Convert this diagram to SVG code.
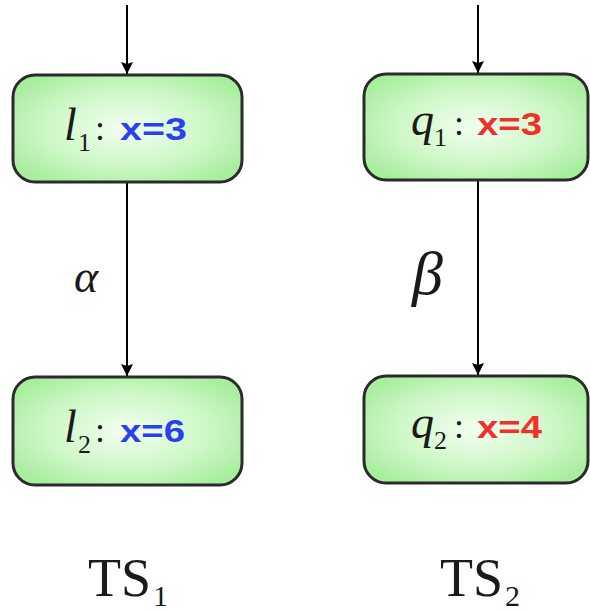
<svg xmlns="http://www.w3.org/2000/svg" width="590" height="611" viewBox="0 0 590 611">
<style>
.node{stroke:#2b2b2b;stroke-width:3;fill:url(#g)}
.edge{stroke:#000;stroke-width:2;fill:none;marker-end:url(#ah)}
.it{font-family:"Liberation Serif","DejaVu Serif",serif;font-style:italic;fill:#1a1a1a}
.rm{font-family:"Liberation Serif","DejaVu Serif",serif;fill:#1a1a1a}
.val{font-family:"Liberation Sans","DejaVu Sans",sans-serif;font-weight:bold;font-size:32px}
.blue{fill:#2b3ff2}
.red{fill:#f0302a}
</style>
<defs>
<radialGradient id="g" cx="50%" cy="50%" r="60%">
<stop offset="0" stop-color="#f2fff0"/>
<stop offset="0.6" stop-color="#cdf7c6"/>
<stop offset="1" stop-color="#a8ee9e"/>
</radialGradient>
<marker id="ah" markerWidth="12" markerHeight="18" refX="12" refY="9" orient="auto" markerUnits="userSpaceOnUse">
<path d="M0,3 L12,9 L0,15 L2,9 Z" fill="#000"/>
</marker>
</defs>
<g id="connectors">
<line class="edge" x1="127" y1="5" x2="127" y2="74"/>
<line class="edge" x1="478" y1="5" x2="478" y2="73"/>
<line class="edge" x1="127" y1="183" x2="127" y2="376"/>
<line class="edge" x1="478" y1="180" x2="478" y2="375"/>
<text class="it" x="74" y="292" font-size="46">α</text>
<text class="it" x="412" y="294" font-size="62">β</text>
</g>
<g id="l1">
<rect class="node" x="13" y="75" width="229" height="107" rx="22"/>
<text class="it" x="64" y="140" font-size="46">l</text>
<text class="rm" x="78" y="151" font-size="26">1</text>
<text class="rm" x="95" y="140" font-size="36">:</text>
<text class="val blue" x="120" y="140" textLength="67" lengthAdjust="spacingAndGlyphs">x=3</text>
</g>
<g id="q1">
<rect class="node" x="364" y="74" width="224" height="106" rx="22"/>
<text class="it" x="411" y="135" font-size="46">q</text>
<text class="rm" x="434" y="146" font-size="26">1</text>
<text class="rm" x="454" y="135" font-size="36">:</text>
<text class="val red" x="477" y="135" textLength="65" lengthAdjust="spacingAndGlyphs">x=3</text>
</g>
<g id="l2">
<rect class="node" x="13" y="377" width="229" height="108" rx="22"/>
<text class="it" x="64" y="442" font-size="46">l</text>
<text class="rm" x="78" y="453" font-size="26">2</text>
<text class="rm" x="95" y="442" font-size="36">:</text>
<text class="val blue" x="120" y="442" textLength="65" lengthAdjust="spacingAndGlyphs">x=6</text>
</g>
<g id="q2">
<rect class="node" x="364" y="376" width="224" height="107" rx="22"/>
<text class="it" x="411" y="438" font-size="46">q</text>
<text class="rm" x="434" y="449" font-size="26">2</text>
<text class="rm" x="454" y="438" font-size="36">:</text>
<text class="val red" x="477" y="438" textLength="65" lengthAdjust="spacingAndGlyphs">x=4</text>
</g>
<g id="labels">
<text class="rm" x="88" y="596" font-size="54">TS</text>
<text class="rm" x="153" y="606" font-size="30">1</text>
<text class="rm" x="440" y="596" font-size="54">TS</text>
<text class="rm" x="505" y="606" font-size="30">2</text>
</g>
</svg>
